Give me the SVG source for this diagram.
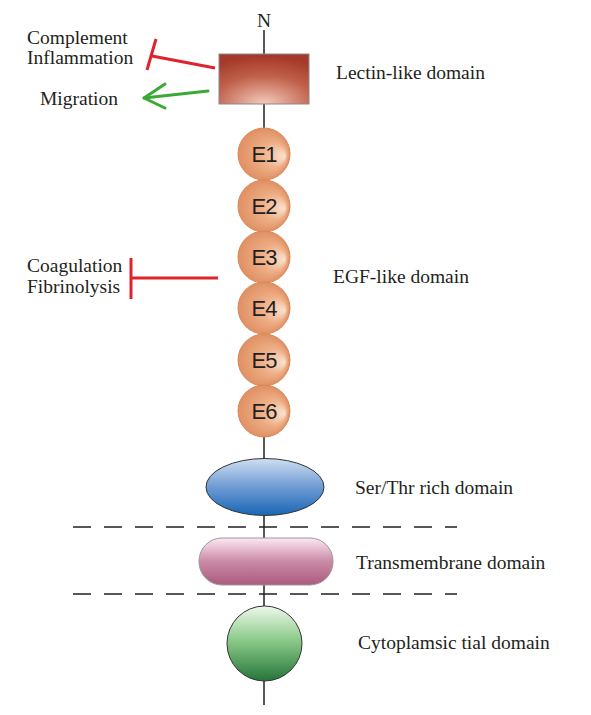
<svg xmlns="http://www.w3.org/2000/svg" width="591" height="715" viewBox="0 0 591 715">
<defs>
<style>
.lbl{font-family:"Liberation Serif","Times New Roman",serif;font-size:19.5px;fill:#231f20}
.e{font-family:"Liberation Sans",Arial,sans-serif;font-size:22px;fill:#231f20;text-anchor:middle;letter-spacing:-1px}
.axis{stroke:#231f20;stroke-width:1.5;fill:none}
.dash{stroke:#231f20;stroke-width:1.5;stroke-dasharray:18 13;fill:none}
.inh{stroke:#e0232a;stroke-width:3;fill:none}
.act{stroke:#3aaa35;stroke-width:3;fill:none;stroke-linecap:round;stroke-linejoin:round}
</style>
<radialGradient id="gRect" cx="0.5" cy="1" r="0.95">
<stop offset="0" stop-color="#f5cbbd"/>
<stop offset="0.6" stop-color="#c0604a"/>
<stop offset="1" stop-color="#a53a2a"/>
</radialGradient>
<radialGradient id="gE" cx="0.45" cy="0.5" r="0.55" fx="0.9" fy="0.55">
<stop offset="0" stop-color="#fbe2cf"/>
<stop offset="0.45" stop-color="#eeae86"/>
<stop offset="1" stop-color="#dd8a5c"/>
</radialGradient>
<linearGradient id="gBlue" x1="0" y1="0" x2="0" y2="1">
<stop offset="0" stop-color="#cfdff2"/>
<stop offset="0.5" stop-color="#6f9bd4"/>
<stop offset="1" stop-color="#1866b4"/>
</linearGradient>
<linearGradient id="gPink" x1="0" y1="0" x2="0" y2="1">
<stop offset="0" stop-color="#fde8f2"/>
<stop offset="0.5" stop-color="#c98aa5"/>
<stop offset="1" stop-color="#ad5a7e"/>
</linearGradient>
<linearGradient id="gGreen" x1="0" y1="0" x2="0" y2="1">
<stop offset="0" stop-color="#eef8ec"/>
<stop offset="0.45" stop-color="#8ccb8a"/>
<stop offset="1" stop-color="#26753a"/>
</linearGradient>
</defs>
<rect width="591" height="715" fill="#ffffff"/>

<g id="connectors">
<line class="axis" x1="264" y1="30" x2="264" y2="705"/>
<line class="dash" x1="73" y1="527" x2="457" y2="527"/>
<line class="dash" x1="73" y1="594" x2="457" y2="594"/>
<line class="inh" x1="215" y1="68" x2="152" y2="56"/>
<line class="inh" x1="156" y1="39" x2="147" y2="70"/>
<line class="act" x1="208" y1="91" x2="144" y2="98"/>
<polyline class="act" points="165,84 144,98 165,108"/>
<line class="inh" x1="218" y1="278" x2="131" y2="278"/>
<line class="inh" x1="131" y1="258" x2="131" y2="299"/>
</g>

<g id="n-label"><text class="lbl" x="264" y="27" text-anchor="middle">N</text></g>

<g id="lectin">
<rect x="219" y="54" width="90" height="50" fill="url(#gRect)" stroke="#8a8a8a" stroke-width="1"/>
<text class="lbl" x="336" y="79">Lectin-like domain</text>
</g>

<g id="labels-left">
<text class="lbl" x="27" y="44">Complement</text>
<text class="lbl" x="27" y="64">Inflammation</text>
<text class="lbl" x="40" y="105">Migration</text>
<text class="lbl" x="27" y="272">Coagulation</text>
<text class="lbl" x="27" y="293">Fibrinolysis</text>
</g>

<g id="E1"><circle cx="264" cy="154" r="26" fill="url(#gE)" stroke="#d98858" stroke-width="1"/><text class="e" x="264" y="162">E1</text></g>
<g id="E2"><circle cx="264" cy="206" r="26" fill="url(#gE)" stroke="#d98858" stroke-width="1"/><text class="e" x="264" y="214">E2</text></g>
<g id="E3"><circle cx="264" cy="257" r="26" fill="url(#gE)" stroke="#d98858" stroke-width="1"/><text class="e" x="264" y="265">E3</text></g>
<g id="E4"><circle cx="264" cy="308" r="26" fill="url(#gE)" stroke="#d98858" stroke-width="1"/><text class="e" x="264" y="316">E4</text></g>
<g id="E5"><circle cx="264" cy="360" r="26" fill="url(#gE)" stroke="#d98858" stroke-width="1"/><text class="e" x="264" y="368">E5</text></g>
<g id="E6"><circle cx="264" cy="411" r="26" fill="url(#gE)" stroke="#d98858" stroke-width="1"/><text class="e" x="264" y="419">E6</text></g>
<g id="egf-label"><text class="lbl" x="333" y="283">EGF-like domain</text></g>

<g id="serthr">
<ellipse cx="265" cy="487" rx="59" ry="28.5" fill="url(#gBlue)" stroke="#333" stroke-width="1"/>
<text class="lbl" x="355" y="494">Ser/Thr rich domain</text>
</g>

<g id="transmembrane">
<rect x="199" y="538" width="134" height="47" rx="23" ry="23" fill="url(#gPink)" stroke="#999" stroke-width="1"/>
<text class="lbl" x="356" y="569">Transmembrane domain</text>
</g>

<g id="cytoplasmic">
<circle cx="264.5" cy="643.5" r="37.5" fill="url(#gGreen)" stroke="#333" stroke-width="1"/>
<text class="lbl" x="358" y="649">Cytoplamsic tial domain</text>
</g>
</svg>
